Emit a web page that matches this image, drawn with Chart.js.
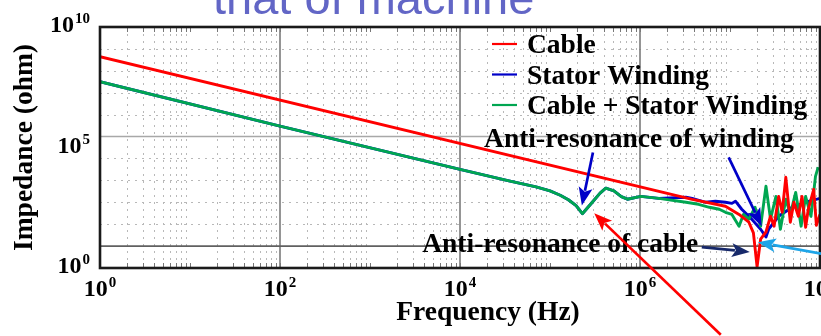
<!DOCTYPE html>
<html>
<head>
<meta charset="utf-8">
<script src="https://cdn.jsdelivr.net/npm/chart.js@4.4.1/dist/chart.umd.min.js"></script>
<style>
  html, body { margin: 0; padding: 0; background: #ffffff; overflow: hidden; }
  #wrap { width: 821px; height: 336px; position: relative; }
</style>
</head>
<body>
<div id="wrap"><canvas id="c" width="821" height="336"></canvas></div>
<script>
// Impedance magnitude (ohm) versus frequency (Hz)
const cableFreq = [1, 3.8e6, 8.9e6, 1.26e7, 1.62e7, 1.82e7, 2.0e7, 2.19e7, 2.51e7, 2.82e7, 3.09e7,
  3.47e7, 3.8e7, 4.17e7, 4.68e7, 5.13e7, 5.75e7, 6.31e7, 6.92e7, 7.41e7, 8.51e7, 9.12e7, 1e8];
const cableZ = [4.4e8, 135, 66, 28, 12.3, 4.0, 0.112, 2.1, 4.4, 23, 8.1,
  186, 35, 1380, 12.3, 100, 23, 186, 7.2, 48, 390, 8.9, 28];

const windingFreq = [1, 100, 1e4, 3.5e4, 7.0e4, 1.0e5, 1.3e5, 1.6e5, 1.95e5, 2.29e5, 2.6e5, 2.95e5,
  3.6e5, 4.17e5, 5.13e5, 6.2e5, 7.24e5, 1.02e6, 1.62e6, 3.24e6, 3.8e6, 5.37e6, 6.9e6, 8.9e6,
  1.05e7, 1.15e7, 1.35e7, 1.74e7, 2.19e7, 2.51e7, 2.69e7, 3.47e7, 4.9e7, 6.92e7, 1e8];
const windingZ = [3.2e7, 3.0e5, 3.2e3, 950, 500, 330, 210, 130, 70, 30, 55, 100,
  260, 440, 330, 180, 138, 186, 151, 170, 151, 100, 112, 100,
  89, 112, 48, 17, 5.9, 2.6, 5.9, 23, 59, 100, 151];

const combinedFreq = [1, 100, 1e4, 3.5e4, 7.0e4, 1.0e5, 1.3e5, 1.6e5, 1.95e5, 2.29e5, 2.6e5, 2.95e5,
  3.6e5, 4.17e5, 5.13e5, 6.2e5, 7.24e5, 1.02e6, 1.62e6, 3.24e6, 4.47e6, 5.9e6, 7.6e6, 8.9e6,
  1.05e7, 1.26e7, 1.41e7, 1.62e7, 1.9e7, 2.19e7, 2.51e7, 2.82e7, 3.24e7, 3.63e7, 4.17e7, 4.68e7,
  5.37e7, 6.17e7, 6.92e7, 7.94e7, 8.91e7, 9.55e7];
const combinedZ = [3.2e7, 3.0e5, 3.2e3, 950, 500, 330, 210, 130, 70, 30, 55, 100,
  260, 440, 330, 180, 138, 186, 151, 100, 81, 59, 48, 35,
  28, 8.1, 28, 17, 59, 8.1, 540, 17, 186, 5.9, 138, 28,
  282, 8.1, 186, 23, 1510, 4000];

const seriesNames = ['Cable', 'Stator Winding', 'Cable + Stator Winding'];
const seriesColors = ['#ff0000', '#0000c8', '#00a651'];
const xTickExponents = [0, 2, 4, 6, 8];
const yTickExponents = [0, 5, 10];

const SERIF = '"Liberation Serif", "Times New Roman", serif';
const SANS = '"Liberation Sans", Arial, sans-serif';

function pts(fs, zs) { return fs.map((f, i) => ({ x: f, y: zs[i] })); }

// "10" with a raised exponent
function powerLabel(ctx, exp, x, y, align) {
  const base = 'bold 24px ' + SERIF, sup = 'bold 15px ' + SERIF;
  ctx.font = base; const wb = ctx.measureText('10').width;
  ctx.font = sup; const ws = ctx.measureText(String(exp)).width;
  const total = wb + 1 + ws;
  const left = align === 'center' ? x - total / 2 : (align === 'right' ? x - total : x);
  ctx.textAlign = 'left'; ctx.textBaseline = 'alphabetic'; ctx.fillStyle = '#000';
  ctx.font = base; ctx.fillText('10', left, y);
  ctx.font = sup; ctx.fillText(String(exp), left + wb + 1, y - 9);
}

function arrow(ctx, x1, y1, x2, y2, color) {
  const ang = Math.atan2(y2 - y1, x2 - x1), len = 18, hw = 7;
  const bx = x2 - Math.cos(ang) * len, by = y2 - Math.sin(ang) * len;
  ctx.strokeStyle = color; ctx.fillStyle = color; ctx.lineWidth = 2.7;
  ctx.beginPath(); ctx.moveTo(x1, y1); ctx.lineTo(bx + Math.cos(ang) * 3, by + Math.sin(ang) * 3); ctx.stroke();
  ctx.beginPath();
  ctx.moveTo(x2, y2);
  ctx.lineTo(bx - Math.sin(ang) * hw, by + Math.cos(ang) * hw);
  ctx.lineTo(bx + Math.cos(ang) * 4, by + Math.sin(ang) * 4);
  ctx.lineTo(bx + Math.sin(ang) * hw, by - Math.cos(ang) * hw);
  ctx.closePath(); ctx.fill();
}

// Callouts, anchored in frequency / impedance units
const callouts = [
  { text: 'Anti-resonance of winding', at: [1.85e4, 3.2e4] },
  { text: 'Anti-resonance of cable', at: [3.8e3, 0.54] }
];
const pointers = [
  { from: [3.0e5, 1.86e4], to: [2.26e5, 72], color: '#0000c8' },
  { from: [9.66e6, 1.12e4], to: [2.25e7, 8.1], color: '#0000c8' },
  { from: [4.86e6, 0.9], to: [1.66e7, 0.54], color: '#17296a' },
  { from: [1.25e8, 0.39], to: [2.04e7, 1.5], color: '#1ea5e8' },
  { from: [7.9e6, 8.9e-5], to: [3.1e5, 31.6], color: '#ff0000' }
];

const gridPlugin = {
  id: 'logGrid',
  beforeDatasetsDraw(chart) {
    const { ctx, chartArea: a, scales: { x, y } } = chart;
    ctx.save();
    // minor dotted lines
    ctx.strokeStyle = '#b8b8b8'; ctx.lineWidth = 1; ctx.setLineDash([2, 5]);
    for (let e = 0; e < 8; e++) {
      for (let m = 2; m <= 9; m++) {
        const px = Math.round(x.getPixelForValue(m * Math.pow(10, e))) + 0.5;
        ctx.beginPath(); ctx.moveTo(px, a.top); ctx.lineTo(px, a.bottom); ctx.stroke();
      }
    }
    for (let e = -1; e <= 10; e++) {
      if (e === 0 || e === 5) continue;
      const py = Math.round(y.getPixelForValue(Math.pow(10, e))) + 0.5;
      ctx.beginPath(); ctx.moveTo(a.left, py); ctx.lineTo(a.right, py); ctx.stroke();
    }
    ctx.setLineDash([]);
    // inner tick marks
    ctx.strokeStyle = '#777'; ctx.lineWidth = 1;
    for (let e = 0; e < 8; e++) {
      for (let m = 1; m <= 9; m++) {
        const px = Math.round(x.getPixelForValue(m * Math.pow(10, e))) + 0.5;
        ctx.beginPath(); ctx.moveTo(px, a.bottom); ctx.lineTo(px, a.bottom - 5);
        ctx.moveTo(px, a.top); ctx.lineTo(px, a.top + 5); ctx.stroke();
      }
    }
    // major solid lines
    ctx.lineWidth = 1.6;
    [2, 4, 6].forEach(e => {
      const px = x.getPixelForValue(Math.pow(10, e));
      ctx.strokeStyle = '#7a7a7a';
      ctx.beginPath(); ctx.moveTo(px, a.top); ctx.lineTo(px, a.bottom); ctx.stroke();
    });
    [[5, '#a8a8a8'], [0, '#606060']].forEach(([e, col]) => {
      const py = y.getPixelForValue(Math.pow(10, e));
      ctx.strokeStyle = col;
      ctx.beginPath(); ctx.moveTo(a.left, py); ctx.lineTo(a.right, py); ctx.stroke();
    });
    ctx.restore();
  },
  afterDraw(chart) {
    const { ctx, chartArea: a, scales: { x, y } } = chart;
    ctx.save();
    // frame
    ctx.strokeStyle = '#1a1a1a'; ctx.lineWidth = 2.6;
    ctx.strokeRect(a.left, a.top, a.right - a.left, a.bottom - a.top);

    // tick labels
    xTickExponents.forEach(e => powerLabel(ctx, e, x.getPixelForValue(Math.pow(10, e)), a.bottom + 28, 'center'));
    const eMax = yTickExponents[yTickExponents.length - 1];
    yTickExponents.forEach(e => {
      const py = a.top + (a.bottom - a.top) * (eMax - e) / eMax;
      powerLabel(ctx, e, a.left - 10, py + 5, 'right');
    });

    // axis titles
    ctx.fillStyle = '#000'; ctx.font = 'bold 27.5px ' + SERIF;
    ctx.textAlign = 'center'; ctx.textBaseline = 'alphabetic';
    ctx.fillText('Frequency (Hz)', (a.left + a.right) / 2 + 28, a.bottom + 52);
    ctx.save();
    ctx.translate(32, (a.top + a.bottom) / 2);
    ctx.rotate(-Math.PI / 2);
    ctx.fillText('Impedance (ohm)', 0, 0);
    ctx.restore();

    // legend
    const lx = a.left + 392, ly = a.top + 17, gap = 30.5;
    seriesNames.forEach((name, i) => {
      const yy = ly + i * gap;
      ctx.strokeStyle = seriesColors[i]; ctx.lineWidth = 2.2;
      ctx.beginPath(); ctx.moveTo(lx, yy); ctx.lineTo(lx + 25, yy); ctx.stroke();
      ctx.fillStyle = '#000'; ctx.font = 'bold 27.5px ' + SERIF; ctx.textAlign = 'left';
      ctx.fillText(name, lx + 35, yy + 9);
    });

    // callouts and pointers
    callouts.forEach(c => {
      ctx.fillStyle = '#000'; ctx.font = 'bold 27.5px ' + SERIF; ctx.textAlign = 'left';
      ctx.fillText(c.text, x.getPixelForValue(c.at[0]), y.getPixelForValue(c.at[1]));
    });
    pointers.forEach(p => arrow(ctx,
      x.getPixelForValue(p.from[0]), y.getPixelForValue(p.from[1]),
      x.getPixelForValue(p.to[0]), y.getPixelForValue(p.to[1]), p.color));

    // slide heading running above the plot
    ctx.fillStyle = '#6266c6'; ctx.font = '47px ' + SANS; ctx.textAlign = 'left';
    ctx.fillText('that of machine', 213, 14);
    ctx.restore();
  }
};

const lineStyle = { borderWidth: 2.9, pointRadius: 0, tension: 0, fill: false, borderJoinStyle: 'round' };

new Chart(document.getElementById('c'), {
  type: 'line',
  data: {
    datasets: [
      { label: seriesNames[0], data: pts(cableFreq, cableZ), borderColor: seriesColors[0], order: 0, ...lineStyle },
      { label: seriesNames[1], data: pts(windingFreq, windingZ), borderColor: seriesColors[1], order: 2, ...lineStyle },
      { label: seriesNames[2], data: pts(combinedFreq, combinedZ), borderColor: seriesColors[2], order: 1, ...lineStyle }
    ]
  },
  options: {
    responsive: false,
    animation: false,
    devicePixelRatio: 1,
    layout: { padding: { left: 100, top: 27, right: 1, bottom: 68 } },
    plugins: { legend: { display: false }, tooltip: { enabled: false } },
    scales: {
      x: { type: 'logarithmic', min: 1, max: 1e8, display: false },
      y: { type: 'logarithmic', min: 0.1, max: 1e10, display: false }
    }
  },
  plugins: [gridPlugin]
});
</script>
</body>
</html>
